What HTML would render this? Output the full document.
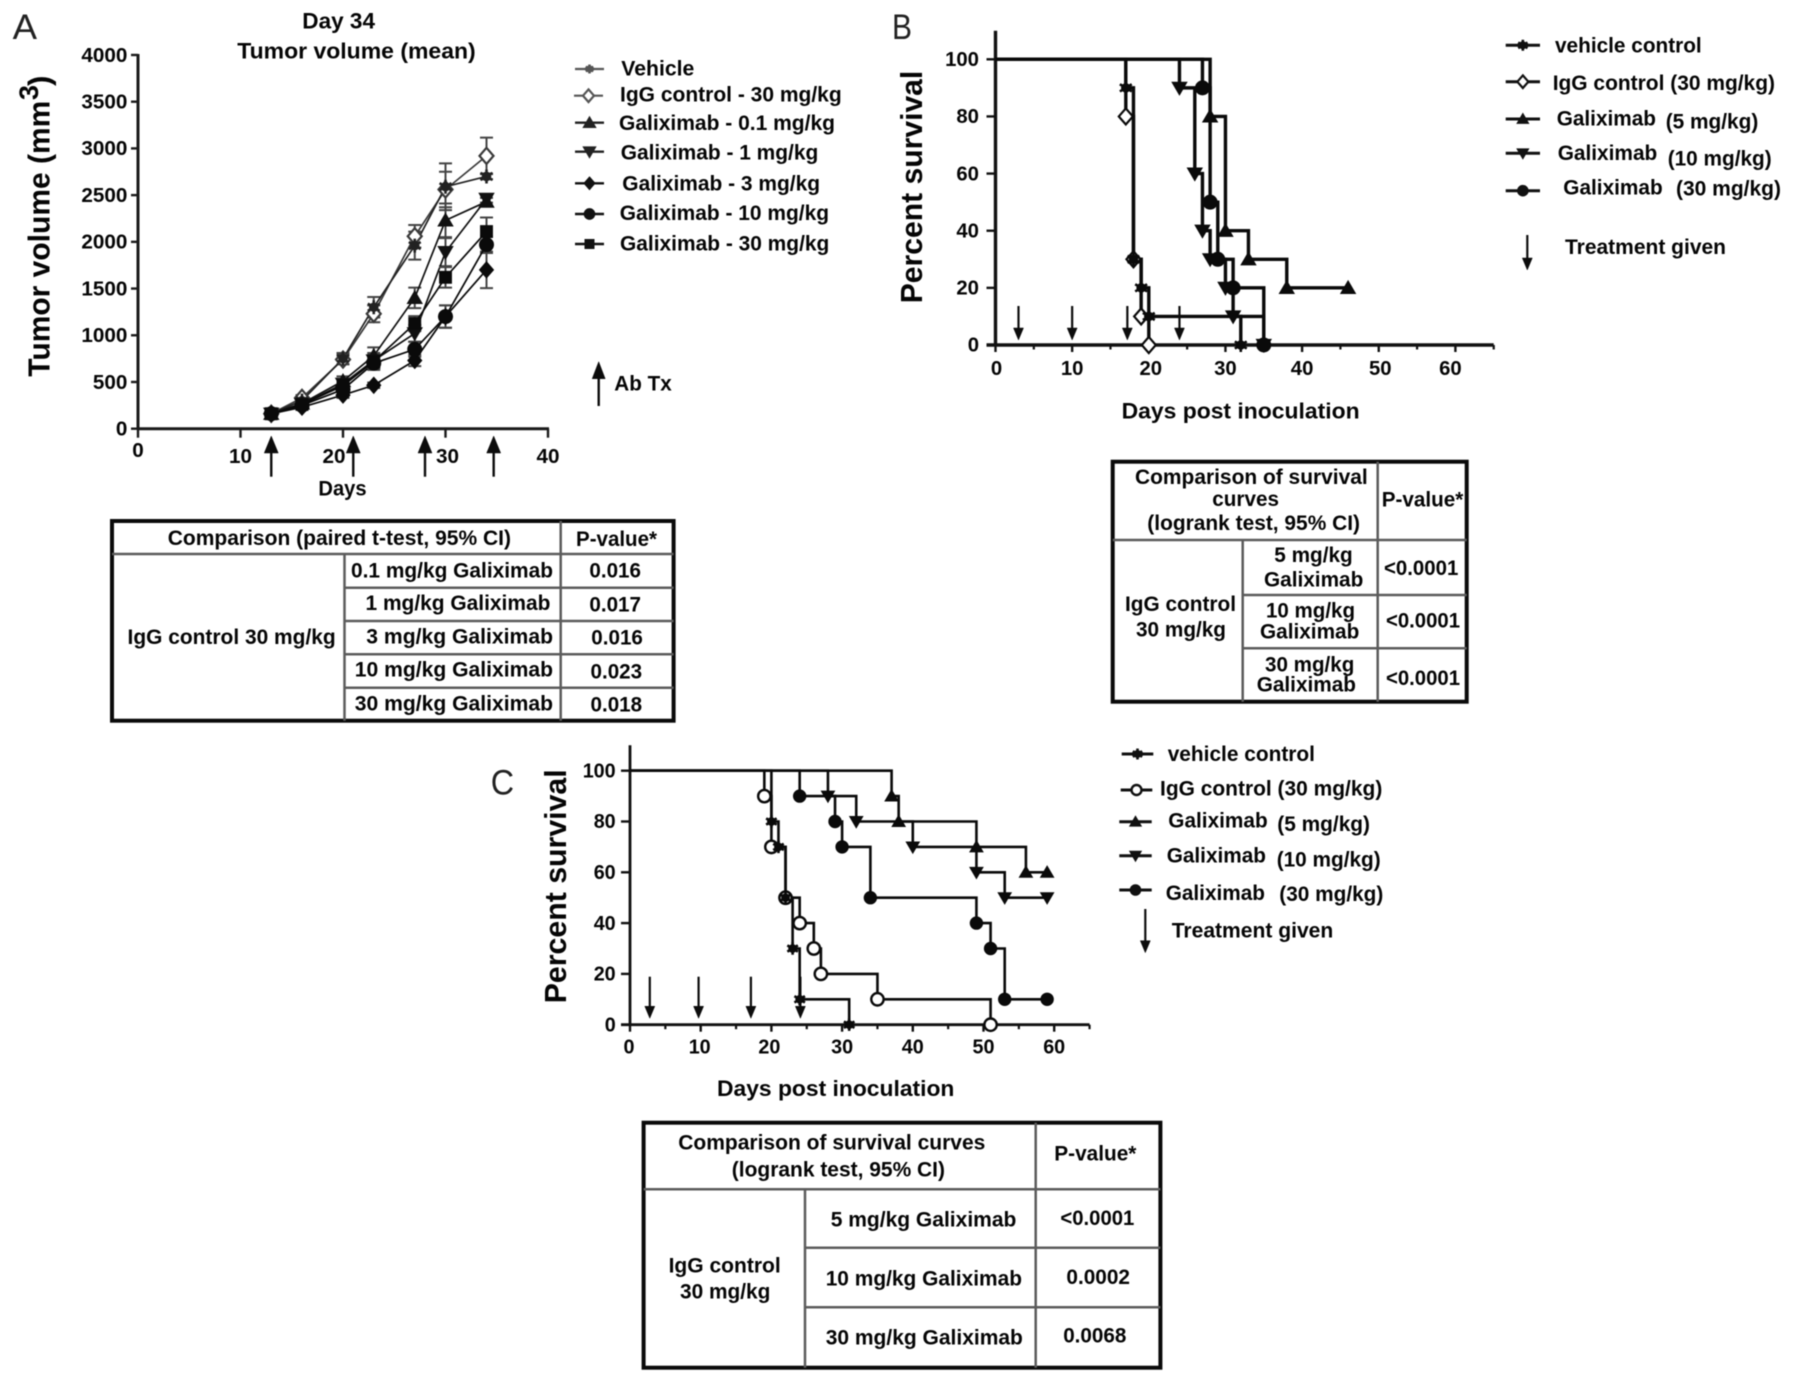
<!DOCTYPE html>
<html lang="en">
<head>
<meta charset="utf-8">
<title>Galiximab tumor volume and survival figure</title>
<style>
html,body{margin:0;padding:0;background:#fff;width:1795px;height:1393px;overflow:hidden}
svg{display:block;filter:blur(.5px)}
text{font-family:"Liberation Sans",Arial,sans-serif;font-weight:700;font-size:21px;fill:#050505}
.lt{font-weight:400;font-size:35px;fill:#222}
.ttl{font-size:31px}
.hd{font-size:22px}
.ol{fill:none;stroke:#0a0a0a;stroke-width:4}
.il{stroke:#5c5c5c;stroke-width:2.5;fill:none}
</style>
</head>
<body>
<svg id="fig" xmlns="http://www.w3.org/2000/svg" width="1795" height="1393" viewBox="0 0 1795 1393">
<rect x="0" y="0" width="1795" height="1393" fill="#fff"/>

<g>
<text class="lt" x="12.6" y="39" textLength="24.4" lengthAdjust="spacingAndGlyphs">A</text>
<text class="hd" x="302.3" y="28.3" textLength="72.7" lengthAdjust="spacingAndGlyphs">Day 34</text>
<text class="hd" x="237.3" y="58.3" textLength="238.4" lengthAdjust="spacingAndGlyphs">Tumor volume (mean)</text>
<g>
<text class="ttl" transform="translate(49.7,376.7) rotate(-90)" textLength="276" lengthAdjust="spacingAndGlyphs">Tumor volume (mm</text>
<text class="ttl" style="font-size:27px" transform="translate(38,100) rotate(-90)" textLength="15" lengthAdjust="spacingAndGlyphs">3</text>
<text class="ttl" transform="translate(49.7,86) rotate(-90)" textLength="10.5" lengthAdjust="spacingAndGlyphs">)</text>
</g>
<text x="318.4" y="495.7" textLength="48.2" lengthAdjust="spacingAndGlyphs">Days</text>
</g>

<g>
<text x="621.3" y="75.7" textLength="73" lengthAdjust="spacingAndGlyphs">Vehicle</text>
<text x="620" y="101.7" textLength="221.7" lengthAdjust="spacingAndGlyphs">IgG control - 30 mg/kg</text>
<text x="619" y="130" textLength="216" lengthAdjust="spacingAndGlyphs">Galiximab - 0.1 mg/kg</text>
<text x="620.7" y="159.3" textLength="197.6" lengthAdjust="spacingAndGlyphs">Galiximab - 1 mg/kg</text>
<text x="622.3" y="190.7" textLength="197.7" lengthAdjust="spacingAndGlyphs">Galiximab - 3 mg/kg</text>
<text x="619.7" y="220" textLength="209.3" lengthAdjust="spacingAndGlyphs">Galiximab - 10 mg/kg</text>
<text x="620" y="250.7" textLength="209.3" lengthAdjust="spacingAndGlyphs">Galiximab - 30 mg/kg</text>
<text x="614.3" y="390.7" textLength="57.4" lengthAdjust="spacingAndGlyphs">Ab Tx</text>
</g>

<g>
<rect class="ol" x="112" y="521" width="561.6" height="199.7"/>
<path class="il" d="M112 554H673.6M344.5 587.7H673.6M344.5 621H673.6M344.5 654.3H673.6M344.5 687.7H673.6M344.5 554V720.7M560.7 521V720.7"/>
<text x="167.7" y="545" textLength="343.3" lengthAdjust="spacingAndGlyphs">Comparison (paired t-test, 95% CI)</text>
<text x="576" y="546" textLength="81" lengthAdjust="spacingAndGlyphs">P-value*</text>
<text x="127.5" y="644" textLength="208.2" lengthAdjust="spacingAndGlyphs">IgG control 30 mg/kg</text>
<text x="351" y="577.7" textLength="202" lengthAdjust="spacingAndGlyphs">0.1 mg/kg Galiximab</text>
<text x="365.5" y="610" textLength="184.9" lengthAdjust="spacingAndGlyphs">1 mg/kg Galiximab</text>
<text x="366.3" y="643.3" textLength="186.7" lengthAdjust="spacingAndGlyphs">3 mg/kg Galiximab</text>
<text x="354.8" y="676.7" textLength="198.2" lengthAdjust="spacingAndGlyphs">10 mg/kg Galiximab</text>
<text x="354.8" y="710.7" textLength="198.2" lengthAdjust="spacingAndGlyphs">30 mg/kg Galiximab</text>
<text x="589.4" y="577.7" textLength="51.6" lengthAdjust="spacingAndGlyphs">0.016</text>
<text x="589.4" y="611.7" textLength="51.6" lengthAdjust="spacingAndGlyphs">0.017</text>
<text x="591.3" y="644.3" textLength="51.6" lengthAdjust="spacingAndGlyphs">0.016</text>
<text x="590.5" y="678.3" textLength="51.6" lengthAdjust="spacingAndGlyphs">0.023</text>
<text x="590.5" y="711.7" textLength="51.6" lengthAdjust="spacingAndGlyphs">0.018</text>
</g>

<g>
<text class="lt" x="892" y="39" textLength="20" lengthAdjust="spacingAndGlyphs">B</text>
<text class="ttl" transform="translate(922,303.3) rotate(-90)" textLength="232.6" lengthAdjust="spacingAndGlyphs">Percent survival</text>
<text class="hd" x="1121.6" y="418.3" textLength="238" lengthAdjust="spacingAndGlyphs">Days post inoculation</text>
</g>

<g>
<text x="1555" y="52.3" textLength="146.7" lengthAdjust="spacingAndGlyphs">vehicle control</text>
<text x="1552.7" y="90" textLength="222.3" lengthAdjust="spacingAndGlyphs">IgG control (30 mg/kg)</text>
<text x="1556.7" y="125.7" textLength="99.3" lengthAdjust="spacingAndGlyphs">Galiximab</text>
<text x="1665.7" y="128.3" textLength="92.6" lengthAdjust="spacingAndGlyphs">(5 mg/kg)</text>
<text x="1557.7" y="160" textLength="99.6" lengthAdjust="spacingAndGlyphs">Galiximab</text>
<text x="1667.7" y="165.7" textLength="104" lengthAdjust="spacingAndGlyphs">(10 mg/kg)</text>
<text x="1563.3" y="194.3" textLength="99.4" lengthAdjust="spacingAndGlyphs">Galiximab</text>
<text x="1676" y="195.7" textLength="105" lengthAdjust="spacingAndGlyphs">(30 mg/kg)</text>
<text x="1565" y="254" textLength="161" lengthAdjust="spacingAndGlyphs">Treatment given</text>
</g>

<g>
<rect class="ol" x="1112.7" y="461.7" width="354" height="240"/>
<path class="il" d="M1112.7 540H1466.7M1242.7 595H1466.7M1242.7 648.3H1466.7M1242.7 540V701.7M1377.7 461.7V701.7"/>
<text x="1135" y="484" textLength="232.7" lengthAdjust="spacingAndGlyphs">Comparison of survival</text>
<text x="1212.3" y="506" textLength="66.7" lengthAdjust="spacingAndGlyphs">curves</text>
<text x="1147.3" y="530" textLength="212.7" lengthAdjust="spacingAndGlyphs">(logrank test, 95% CI)</text>
<text x="1381.7" y="506.7" textLength="81.6" lengthAdjust="spacingAndGlyphs">P-value*</text>
<text x="1125" y="611" textLength="111" lengthAdjust="spacingAndGlyphs">IgG control</text>
<text x="1136" y="636.7" textLength="90" lengthAdjust="spacingAndGlyphs">30 mg/kg</text>
<text x="1274.3" y="562" textLength="78.4" lengthAdjust="spacingAndGlyphs">5 mg/kg</text>
<text x="1264" y="586.7" textLength="99.3" lengthAdjust="spacingAndGlyphs">Galiximab</text>
<text x="1266" y="617.7" textLength="89" lengthAdjust="spacingAndGlyphs">10 mg/kg</text>
<text x="1260" y="638.3" textLength="99.3" lengthAdjust="spacingAndGlyphs">Galiximab</text>
<text x="1265" y="671.7" textLength="89.3" lengthAdjust="spacingAndGlyphs">30 mg/kg</text>
<text x="1256.7" y="691.7" textLength="99.3" lengthAdjust="spacingAndGlyphs">Galiximab</text>
<text x="1384" y="575" textLength="74.3" lengthAdjust="spacingAndGlyphs">&lt;0.0001</text>
<text x="1386" y="627.7" textLength="74" lengthAdjust="spacingAndGlyphs">&lt;0.0001</text>
<text x="1386" y="685" textLength="74" lengthAdjust="spacingAndGlyphs">&lt;0.0001</text>
</g>

<g>
<text class="lt" x="490.7" y="794.5" textLength="23.3" lengthAdjust="spacingAndGlyphs">C</text>
<text class="ttl" transform="translate(566,1003.3) rotate(-90)" textLength="234" lengthAdjust="spacingAndGlyphs">Percent survival</text>
<text class="hd" x="717" y="1096" textLength="237.4" lengthAdjust="spacingAndGlyphs">Days post inoculation</text>
</g>

<g>
<text x="1167.7" y="761" textLength="147.3" lengthAdjust="spacingAndGlyphs">vehicle control</text>
<text x="1160" y="795.7" textLength="222.3" lengthAdjust="spacingAndGlyphs">IgG control (30 mg/kg)</text>
<text x="1168.3" y="827.7" textLength="99.4" lengthAdjust="spacingAndGlyphs">Galiximab</text>
<text x="1277.3" y="831" textLength="92.7" lengthAdjust="spacingAndGlyphs">(5 mg/kg)</text>
<text x="1166.7" y="862.7" textLength="99.3" lengthAdjust="spacingAndGlyphs">Galiximab</text>
<text x="1276.7" y="866.7" textLength="104" lengthAdjust="spacingAndGlyphs">(10 mg/kg)</text>
<text x="1165.7" y="900" textLength="99.3" lengthAdjust="spacingAndGlyphs">Galiximab</text>
<text x="1279.3" y="901" textLength="104" lengthAdjust="spacingAndGlyphs">(30 mg/kg)</text>
<text x="1171.7" y="937.3" textLength="161.6" lengthAdjust="spacingAndGlyphs">Treatment given</text>
</g>

<g>
<rect class="ol" x="643.6" y="1122.7" width="516.8" height="245"/>
<path class="il" d="M643.6 1189.3H1160.4M805 1247.7H1160.4M805 1307.3H1160.4M805 1189.3V1367.7M1035.7 1122.7V1367.7"/>
<text x="678.2" y="1149.3" textLength="307.2" lengthAdjust="spacingAndGlyphs">Comparison of survival curves</text>
<text x="731.8" y="1176.7" textLength="213.2" lengthAdjust="spacingAndGlyphs">(logrank test, 95% CI)</text>
<text x="1054.3" y="1160.7" textLength="82.1" lengthAdjust="spacingAndGlyphs">P-value*</text>
<text x="668.6" y="1272.7" textLength="112.1" lengthAdjust="spacingAndGlyphs">IgG control</text>
<text x="680" y="1298.3" textLength="90.4" lengthAdjust="spacingAndGlyphs">30 mg/kg</text>
<text x="830.7" y="1226.7" textLength="185.7" lengthAdjust="spacingAndGlyphs">5 mg/kg Galiximab</text>
<text x="825.7" y="1285.3" textLength="196.3" lengthAdjust="spacingAndGlyphs">10 mg/kg Galiximab</text>
<text x="825.7" y="1344.3" textLength="197.2" lengthAdjust="spacingAndGlyphs">30 mg/kg Galiximab</text>
<text x="1060.4" y="1225" textLength="73.9" lengthAdjust="spacingAndGlyphs">&lt;0.0001</text>
<text x="1066.4" y="1284" textLength="63.6" lengthAdjust="spacingAndGlyphs">0.0002</text>
<text x="1063.2" y="1342.7" textLength="63.2" lengthAdjust="spacingAndGlyphs">0.0068</text>
</g>

<g id="plots"></g>
</svg>

<script>
/* ---------- Panel A data ---------- */
const aDays = [13, 16, 20, 23, 27, 30, 34];
const aVehicle = [160, 300, 750, 1300, 1960, 2590, 2700];
const aIgG = [160, 330, 740, 1230, 2060, 2560, 2920];
const aGal01 = [160, 270, 510, 780, 1400, 2230, 2430];
const aGal1 = [160, 260, 480, 730, 1020, 1890, 2460];
const aGal3 = [160, 230, 360, 465, 730, 1200, 1700];
const aGal10 = [160, 250, 420, 700, 850, 1200, 1970];
const aGal30 = [160, 260, 460, 720, 1125, 1620, 2110];
const aVehicleErr = [10, 30, 60, 110, 150, 250, 30];
const aIgGErr = [10, 30, 50, 90, 120, 190, 195];
const aGal01Err = [10, 20, 50, 90, 110, 180, 40];
const aGal1Err = [10, 20, 40, 80, 90, 150, 40];
const aGal3Err = [10, 20, 30, 30, 60, 120, 195];
const aGal10Err = [10, 20, 30, 70, 80, 120, 90];
const aGal30Err = [10, 20, 30, 70, 80, 110, 150];
const aTreatmentDays = [13, 21, 28, 34.7];
const aYTicks = [0, 500, 1000, 1500, 2000, 2500, 3000, 3500, 4000];
const aXTicks = [0, 10, 20, 30, 40];

/* ---------- Panel B data ---------- */
const bVehicleDays = [17, 18, 19, 20, 32];
const bVehicleSurvival = [90, 30, 20, 10, 0];
const bIgGDays = [17, 18, 19, 20];
const bIgGSurvival = [80, 30, 10, 0];
const bGal5Days = [28, 30, 33, 38, 46];
const bGal5Survival = [80, 40, 30, 20, 20];
const bGal10Days = [24, 26, 27, 28, 30, 31, 35];
const bGal10Survival = [90, 60, 40, 30, 20, 10, 0];
const bGal30Days = [27, 28, 29, 31, 35];
const bGal30Survival = [90, 50, 30, 20, 0];
const bTreatmentDays = [3, 10, 17.2, 24];
const bYTicks = [0, 20, 40, 60, 80, 100];
const bXTicks = [0, 10, 20, 30, 40, 50, 60];
const bXMinorTicks = [5, 15, 25, 35, 45, 55, 65];

/* ---------- Panel C data ---------- */
const cVehicleDays = [20, 21, 22, 23, 24, 31];
const cVehicleSurvival = [80, 70, 50, 30, 10, 0];
const cIgGDays = [19, 20, 22, 24, 26, 27, 35, 51];
const cIgGSurvival = [90, 70, 50, 40, 30, 20, 10, 0];
const cGal5Days = [37, 38, 49, 56, 59];
const cGal5Survival = [90, 80, 70, 60, 60];
const cGal10Days = [28, 32, 40, 49, 53, 59];
const cGal10Survival = [90, 80, 70, 60, 50, 50];
const cGal30Days = [24, 29, 30, 34, 49, 51, 53, 59];
const cGal30Survival = [90, 80, 70, 50, 40, 30, 10, 10];
const cTreatmentDays = [2.8, 9.7, 17.1, 24.1];
const cYTicks = [0, 20, 40, 60, 80, 100];
const cXTicks = [0, 10, 20, 30, 40, 50, 60];
const cXMinorTicks = [5, 15, 25, 35, 45, 55, 65];

/* ---------- Axis functions ---------- */
const xA = d => 138 + d * 10.25;
const yA = v => 428.7 - v * 0.09343;
const xB = d => 995.5 + d * 7.665;
const yB = v => 345 - v * 2.857;
const xC = d => 630 + d * 7.07;
const yC = v => 1024.7 - v * 2.54;

/* ---------- Drawing helpers ---------- */
const NS = 'http://www.w3.org/2000/svg';
const root = document.getElementById('plots');

function group(name, parent) {
  const g = document.createElementNS(NS, 'g');
  
  
  (parent || root).appendChild(g);
  return g;
}
function pathEl(parent, d, stroke, width, fill, name) {
  const p = document.createElementNS(NS, 'path');
  p.setAttribute('d', d);
  p.setAttribute('stroke', stroke);
  p.setAttribute('stroke-width', width);
  p.setAttribute('fill', fill);
  
  
  parent.appendChild(p);
  return p;
}
function label(parent, str, x, y, anchor, size, charW, name) {
  const t = document.createElementNS(NS, 'text');
  t.textContent = str;
  t.setAttribute('x', x);
  t.setAttribute('y', y);
  t.setAttribute('text-anchor', anchor);
  t.style.fontSize = size + 'px';
  t.setAttribute('textLength', charW * str.length);
  t.setAttribute('lengthAdjust', 'spacingAndGlyphs');
  
  
  parent.appendChild(t);
}
function marker(parent, kind, x, y, r, color, name) {
  let d = '', stroke = color, fill = color, w = 1;
  if (kind === 'star') {
    const k = r * 0.85;
    const c = r * 0.5;
    d = `M${x} ${y - r}V${y + r}M${x - k} ${y - k * 0.6}L${x + k} ${y + k * 0.6}M${x - k} ${y + k * 0.6}L${x + k} ${y - k * 0.6}`
      + `M${x - c} ${y}A${c} ${c} 0 1 0 ${x + c} ${y}A${c} ${c} 0 1 0 ${x - c} ${y}Z`;
    w = 2.6;
  } else if (kind === 'up') {
    d = `M${x} ${y - r}L${x + r * 1.05} ${y + r * 0.8}H${x - r * 1.05}Z`;
  } else if (kind === 'down') {
    d = `M${x} ${y + r}L${x + r * 1.05} ${y - r * 0.8}H${x - r * 1.05}Z`;
  } else if (kind === 'diamond' || kind === 'odiamond') {
    d = `M${x} ${y - r * 1.15}L${x + r} ${y}L${x} ${y + r * 1.15}L${x - r} ${y}Z`;
    if (kind === 'odiamond') { fill = '#fff'; w = 2.2; }
  } else if (kind === 'square') {
    d = `M${x - r * 0.85} ${y - r * 0.85}H${x + r * 0.85}V${y + r * 0.85}H${x - r * 0.85}Z`;
  } else if (kind === 'circle' || kind === 'ocircle') {
    d = `M${x - r} ${y}A${r} ${r} 0 1 0 ${x + r} ${y}A${r} ${r} 0 1 0 ${x - r} ${y}Z`;
    if (kind === 'ocircle') { fill = '#fff'; w = 2.4; }
  }
  pathEl(parent, d, stroke, w, fill, name);
}
function arrow(parent, x, yTail, yTip, headH, halfW, width, name) {
  const dir = yTip < yTail ? 1 : -1;
  const d = `M${x} ${yTail}V${yTip + dir * headH * 0.6}`;
  pathEl(parent, d, '#0c0c0c', width, 'none', name + '-shaft');
  pathEl(parent, `M${x} ${yTip}L${x + halfW} ${yTip + dir * headH}H${x - halfW}Z`, '#0c0c0c', 0.5, '#0c0c0c', name + '-head');
}
function legendKey(parent, kind, x1, x2, y, r, color, width, name) {
  pathEl(parent, `M${x1} ${y}H${x2}`, color, width, 'none', name + '-line');
  marker(parent, kind, (x1 + x2) / 2, y, r, color, name + '-marker');
}

/* ---------- Panel A ---------- */
const aSeries = [
  {name: 'igg-control', values: aIgG, err: aIgGErr, kind: 'odiamond', color: '#3a3a3a'},
  {name: 'vehicle', values: aVehicle, err: aVehicleErr, kind: 'star', color: '#222'},
  {name: 'galiximab-0-1', values: aGal01, err: aGal01Err, kind: 'up', color: '#111'},
  {name: 'galiximab-1', values: aGal1, err: aGal1Err, kind: 'down', color: '#111'},
  {name: 'galiximab-3', values: aGal3, err: aGal3Err, kind: 'diamond', color: '#0a0a0a'},
  {name: 'galiximab-10', values: aGal10, err: aGal10Err, kind: 'circle', color: '#0a0a0a'},
  {name: 'galiximab-30', values: aGal30, err: aGal30Err, kind: 'square', color: '#0a0a0a'}
];
const gA = group('panel-a-chart');
const aAxes = group('panel-a-axes', gA);
pathEl(aAxes, `M${xA(0)} ${yA(4000) - 1}V${yA(0) + 1}`, '#1a1a1a', 3, 'none', 'panel-a-y-axis');
pathEl(aAxes, `M${xA(0) - 1} ${yA(0)}H${xA(40) + 1}`, '#1a1a1a', 3, 'none', 'panel-a-x-axis');
aYTicks.forEach(v => {
  pathEl(aAxes, `M${xA(0) - 7} ${yA(v)}H${xA(0)}`, '#1a1a1a', 2.4, 'none', 'panel-a-y-tick');
  label(aAxes, String(v), 127.4, yA(v) + 6.8, 'end', 20.5, 11.5, 'panel-a-y-tick-label');
});
aXTicks.forEach(v => {
  pathEl(aAxes, `M${xA(v)} ${yA(0)}v9`, '#1a1a1a', 2.4, 'none', 'panel-a-x-tick');
  const dx = v === 20 ? -9 : (v === 30 ? 2 : 0);
  const base = v === 0 ? 457 : 463;
  label(aAxes, String(v), xA(v) + dx, base, 'middle', 20.5, 11.5, 'panel-a-x-tick-label');
});
aSeries.forEach(s => {
  const g = group('series-' + s.name, gA);
  s.err.forEach((e, i) => {
    const x = xA(aDays[i]), hi = yA(s.values[i] + e), lo = yA(s.values[i] - e);
    pathEl(g, `M${x} ${hi}V${lo}M${x - 6.5} ${hi}h13M${x - 6.5} ${lo}h13`, '#444', 2, 'none', 'error-bar-' + s.name);
  });
  const d = s.values.map((v, i) => (i ? 'L' : 'M') + xA(aDays[i]) + ' ' + yA(v)).join('');
  pathEl(g, d, s.color, 1.7, 'none', 'line-' + s.name);
});
aSeries.forEach(s => {
  const g = group('markers-' + s.name, gA);
  s.values.forEach((v, i) => marker(g, s.kind, xA(aDays[i]), yA(v), 7, s.color, 'point-' + s.name));
});
aTreatmentDays.forEach(d => arrow(gA, xA(d), 476.7, 436, 17, 7, 2.4, 'treatment-arrow-a'));

const aLegend = group('panel-a-legend-keys');
legendKey(aLegend, 'star', 575, 604, 69, 4.5, '#555', 2.2, 'legend-a-key-vehicle');
legendKey(aLegend, 'odiamond', 574, 603, 95.7, 5.5, '#555', 2.2, 'legend-a-key-igg');
legendKey(aLegend, 'up', 575, 604, 122.7, 6, '#222', 2.4, 'legend-a-key-gal-01');
legendKey(aLegend, 'down', 575, 604, 151.7, 6, '#222', 2.4, 'legend-a-key-gal-1');
legendKey(aLegend, 'diamond', 575, 604, 183.3, 5.5, '#111', 2.4, 'legend-a-key-gal-3');
legendKey(aLegend, 'circle', 575, 604, 214, 5.3, '#111', 2.4, 'legend-a-key-gal-10');
legendKey(aLegend, 'square', 575, 604, 244, 5.3, '#111', 2.4, 'legend-a-key-gal-30');
arrow(aLegend, 598.7, 406, 361.7, 17, 6.5, 2.4, 'legend-a-arrow');

/* ---------- Survival panels ---------- */
function stepPath(days, vals, xf, yf) {
  let d = `M${xf(0)} ${yf(100)}`;
  days.forEach((day, i) => { d += `H${xf(day)}V${yf(vals[i])}`; });
  return d;
}
function survivalPanel(cfg) {
  const g = group(cfg.id + '-chart');
  const ax = group(cfg.id + '-axes', g);
  pathEl(ax, `M${cfg.x(0)} ${cfg.y(110)}V${cfg.y(0) + 1}`, '#111', cfg.axisW, 'none', cfg.id + '-y-axis');
  pathEl(ax, `M${cfg.x(0) - 9} ${cfg.y(0)}H${cfg.x(65)}`, '#111', cfg.axisW, 'none', cfg.id + '-x-axis');
  cfg.yTicks.forEach(v => {
    pathEl(ax, `M${cfg.x(0) - 9} ${cfg.y(v)}H${cfg.x(0)}`, '#111', 2.4, 'none', cfg.id + '-y-tick');
    label(ax, String(v), cfg.yLabelX, cfg.y(v) + 6.7, 'end', 20.5, cfg.charW, cfg.id + '-y-tick-label');
  });
  cfg.xTicks.forEach(v => {
    pathEl(ax, `M${cfg.x(v)} ${cfg.y(0)}v7`, '#111', 2.4, 'none', cfg.id + '-x-tick');
    label(ax, String(v), cfg.x(v) + (cfg.nudge[v] || 0), cfg.xLabelY, 'middle', 20.5, cfg.charW, cfg.id + '-x-tick-label');
  });
  cfg.minor.forEach(v => {
    pathEl(ax, `M${cfg.x(v)} ${cfg.y(0)}v4.5`, '#111', 2.2, 'none', cfg.id + '-x-minor-tick');
  });
  cfg.series.forEach(s => {
    pathEl(g, stepPath(s.days, s.vals, cfg.x, cfg.y), '#0a0a0a', cfg.lineW, 'none', cfg.id + '-line-' + s.name);
  });
  cfg.series.forEach(s => {
    s.days.forEach((day, i) => marker(g, s.kind, cfg.x(day), cfg.y(s.vals[i]), cfg.r, '#0a0a0a', cfg.id + '-point-' + s.name));
  });
  cfg.treat.forEach(d => arrow(g, cfg.x(d), cfg.arrowTop, cfg.arrowTip, 12, 5, 2.2, cfg.id + '-treatment-arrow'));
}
survivalPanel({
  id: 'panel-b', x: xB, y: yB, axisW: 3.4, lineW: 3.4, r: 7, charW: 11.3,
  yLabelX: 979, xLabelY: 375, nudge: {0: 1, 20: 2, 50: 1.5, 60: -5},
  yTicks: bYTicks, xTicks: bXTicks, minor: bXMinorTicks, treat: bTreatmentDays,
  arrowTop: 306, arrowTip: 340,
  series: [
    {name: 'igg-control', days: bIgGDays, vals: bIgGSurvival, kind: 'odiamond'},
    {name: 'vehicle', days: bVehicleDays, vals: bVehicleSurvival, kind: 'star'},
    {name: 'galiximab-5', days: bGal5Days, vals: bGal5Survival, kind: 'up'},
    {name: 'galiximab-10', days: bGal10Days, vals: bGal10Survival, kind: 'down'},
    {name: 'galiximab-30', days: bGal30Days, vals: bGal30Survival, kind: 'circle'}
  ]
});
survivalPanel({
  id: 'panel-c', x: xC, y: yC, axisW: 2.8, lineW: 2.6, r: 6.2, charW: 11,
  yLabelX: 615.7, xLabelY: 1053.3, nudge: {0: -1, 10: -1, 20: -2},
  yTicks: cYTicks, xTicks: cXTicks, minor: cXMinorTicks, treat: cTreatmentDays,
  arrowTop: 976.7, arrowTip: 1018.3,
  series: [
    {name: 'igg-control', days: cIgGDays, vals: cIgGSurvival, kind: 'ocircle'},
    {name: 'vehicle', days: cVehicleDays, vals: cVehicleSurvival, kind: 'star'},
    {name: 'galiximab-5', days: cGal5Days, vals: cGal5Survival, kind: 'up'},
    {name: 'galiximab-10', days: cGal10Days, vals: cGal10Survival, kind: 'down'},
    {name: 'galiximab-30', days: cGal30Days, vals: cGal30Survival, kind: 'circle'}
  ]
});

const bLegend = group('panel-b-legend-keys');
legendKey(bLegend, 'star', 1505.7, 1540, 45.3, 5.5, '#111', 3, 'legend-b-key-vehicle');
legendKey(bLegend, 'odiamond', 1505.7, 1540, 81.7, 5.5, '#111', 3, 'legend-b-key-igg');
legendKey(bLegend, 'up', 1505.7, 1540, 119, 5.5, '#111', 3, 'legend-b-key-gal-5');
legendKey(bLegend, 'down', 1505.7, 1540, 153.3, 5.5, '#111', 3, 'legend-b-key-gal-10');
legendKey(bLegend, 'circle', 1505.7, 1540, 190.7, 5.3, '#111', 3, 'legend-b-key-gal-30');
arrow(bLegend, 1527.3, 235, 270, 12, 5, 2.2, 'legend-b-arrow');

const cLegend = group('panel-c-legend-keys');
legendKey(cLegend, 'star', 1121.7, 1153.3, 754, 5.5, '#111', 3, 'legend-c-key-vehicle');
legendKey(cLegend, 'ocircle', 1120.7, 1152.3, 790, 5, '#111', 3, 'legend-c-key-igg');
legendKey(cLegend, 'up', 1119.3, 1151.7, 821.7, 5.5, '#111', 3, 'legend-c-key-gal-5');
legendKey(cLegend, 'down', 1119.3, 1151.7, 855.7, 5.5, '#111', 3, 'legend-c-key-gal-10');
legendKey(cLegend, 'circle', 1119.3, 1151.7, 890, 5.3, '#111', 3, 'legend-c-key-gal-30');
arrow(cLegend, 1145.3, 909, 952.7, 12, 5, 2.2, 'legend-c-arrow');
</script>
</body>
</html>
